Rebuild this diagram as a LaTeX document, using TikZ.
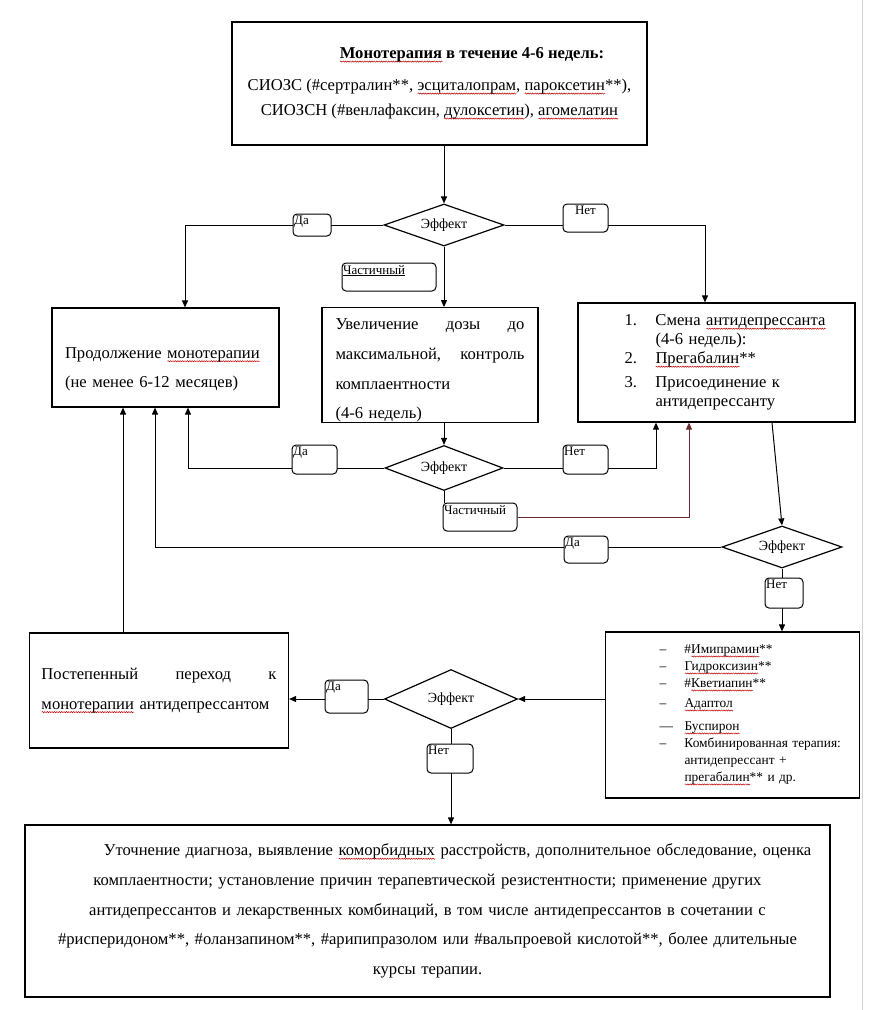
\documentclass[tikz,border=0pt]{standalone}
\usepackage{fontspec}
\setmainfont{Liberation Serif}
\usetikzlibrary{shapes.geometric,arrows.meta,decorations.pathmorphing}
\newlength{\spellwd}
\newcommand{\spell}[1]{\settowidth{\spellwd}{#1}\rlap{\tikz[baseline=0pt]\draw[red!75!black, line width=0.5pt, decorate, decoration={snake, amplitude=0.6pt, segment length=2.4pt}] (0pt,-3pt) -- (\spellwd,-3pt);}#1}
\newcommand{\mainsize}{\fontsize{16.6}{29.7}\selectfont}
\newcommand{\listsize}{\fontsize{13.4}{17}\selectfont}
\newcommand{\tagsize}{\fontsize{13}{15}\selectfont}
\tikzset{
    box/.style={draw, line width=1.2pt, inner xsep=12pt, inner ysep=0pt, font=\mainsize},
    choice/.style={draw, diamond, shape aspect=2.8, line width=1.2pt, inner sep=0pt, font=\fontsize{14}{16}\selectfont},
    tag/.style={draw, rounded corners=4pt, fill=white, line width=1pt, inner sep=0pt},
    tagtext/.style={anchor=north west, inner xsep=1.5pt, inner ysep=2.5pt, font=\tagsize},
    arr/.style={line width=1pt, -{Triangle[length=7pt,width=6pt]}},
    link/.style={line width=1pt}
}
\begin{document}
\begin{tikzpicture}[x=1pt,y=-1pt]
    \fill[white] (0,0) rectangle (883,1010);
    \useasboundingbox (0,0) rectangle (883,1010);
    \draw[gray!35, line width=0.8pt] (862,0) -- (862,1010);

    \node[box, minimum width=415pt, minimum height=123pt, align=center, font=\fontsize{16.6}{25}\selectfont] (mono) at (439.5,83.5)
        {\hspace*{65pt}\textbf{\spell{Монотерапия} в течение 4-6 недель:}\\[7pt]
         СИОЗС (\#сертралин**, \spell{эсциталопрам}, \spell{пароксетин}**),\\
         СИОЗСН (\#венлафаксин, \spell{дулоксетин}), \spell{агомелатин}};
    \node[box, minimum width=227pt, minimum height=99pt, text width=201pt, align=left] (keep) at (165.5,357.5)
        {\mbox{}\\[5pt]
         Продолжение \spell{монотерапии}\\
         (не менее 6-12 месяцев)};
    \node[box, minimum width=216pt, minimum height=114pt, text width=189pt, align=left] (dose) at (430,365)
        {\rule{0pt}{22pt}\makebox[189pt][l]{Увеличение\hfill дозы\hfill до}\\
         \makebox[189pt][l]{максимальной,\hfill контроль}\\
         комплаентности\\
         (4-6 недель)};
    \node[box, minimum width=277pt, minimum height=119pt, text width=240pt, align=left, font=\fontsize{16.6}{19}\selectfont] (swap) at (716.5,362.5)
        {\hspace*{28pt}\makebox[31pt][l]{1.}Смена \spell{антидепрессанта}\\
         \hspace*{59pt}(4-6 недель):\\
         \hspace*{28pt}\makebox[31pt][l]{2.}\spell{Прегабалин}**\\[5pt]
         \hspace*{28pt}\makebox[31pt][l]{3.}Присоединение к\\
         \hspace*{59pt}антидепрессанту};
    \node[box, minimum width=251pt, minimum height=166pt, text width=230pt, align=left, font=\listsize] (alt) at (732.5,715)
        {\hspace*{42pt}\makebox[25pt][l]{–}\#\spell{Имипрамин}**\\
         \hspace*{42pt}\makebox[25pt][l]{–}\spell{Гидроксизин}**\\
         \hspace*{42pt}\makebox[25pt][l]{–}\#\spell{Кветиапин}**\\[3pt]
         \hspace*{42pt}\makebox[25pt][l]{–}\spell{Адаптол}\\[6pt]
         \hspace*{42pt}\makebox[25pt][l]{—}\spell{Буспирон}\\
         \hspace*{42pt}\makebox[25pt][l]{–}Комбинированная терапия:\\
         \hspace*{67pt}антидепрессант +\\
         \hspace*{67pt}\spell{прегабалин}** и др.};
    \node[box, minimum width=258pt, minimum height=115pt, text width=235pt, align=left] (step) at (159,690.5)
        {\makebox[235pt][l]{Постепенный\hfill переход\hfill к}\\
         \makebox[235pt][l]{\spell{монотерапии} антидепрессантом}};
    \node[box, minimum width=805pt, minimum height=172pt, text width=780pt, align=center] (more) at (427.5,911)
        {\hspace*{60pt}Уточнение диагноза, выявление \spell{коморбидных} расстройств, дополнительное обследование, оценка\\
         комплаентности; установление причин терапевтической резистентности; применение других\\
         антидепрессантов и лекарственных комбинаций, в том числе антидепрессантов в сочетании с\\
         \#рисперидоном**, \#оланзапином**, \#арипипразолом или \#вальпроевой кислотой**, более длительные\\
         курсы терапии.};

    \node[choice, minimum width=120pt, minimum height=42pt] (eff1) at (444,225) {Эффект};
    \node[choice, minimum width=118pt, minimum height=45pt] (eff2) at (444,468) {Эффект};
    \node[choice, minimum width=120pt, minimum height=42pt] (eff3) at (782,547) {Эффект};
    \node[choice, minimum width=133pt, minimum height=59pt] (eff4) at (451,699) {Эффект};

    \draw[arr] (eff1.north |- mono.south) -- (eff1.north);
    \draw[arr] (eff1.west) -| ([xshift=19.5pt]keep.north);
    \draw[arr] (eff1.east) -| ([xshift=-11.5pt]swap.north);
    \draw[arr] (eff1.south) -- (eff1.south |- dose.north);
    \draw[arr] (eff2.north |- dose.south) -- (eff2.north);
    \draw[arr] (eff2.west) -| ([xshift=22.5pt]keep.south);
    \draw[arr] (eff2.east) -| ([xshift=-60.5pt]swap.south);
    \draw[arr] ([xshift=55.5pt]swap.south) -- (eff3.north);
    \draw[arr] (eff3.west) -| ([xshift=-10.5pt]keep.south);
    \draw[arr] (eff3.south) -- (eff3.south |- alt.north);
    \draw[arr] (alt.west |- eff4.east) -- (eff4.east);
    \draw[arr] (eff4.west) -- (step.east |- eff4.west);
    \draw[arr] (eff4.south) -- (eff4.south |- more.north);
    \draw[arr] ([xshift=-36pt]step.north) -- ([xshift=-36pt]step.north |- keep.south);

    \node[tag, minimum width=38pt, minimum height=22pt, label={[tagtext]north west:Да}] (yes1) at (312,225) {};
    \node[tag, minimum width=45pt, minimum height=28pt, label={[tagtext, anchor=north]north:Нет}] (no1) at (585.5,218) {};
    \node[tag, minimum width=94pt, minimum height=28pt, label={[tagtext]north west:\underline{Частичный}}] (part1) at (389,277) {};
    \node[tag, minimum width=45pt, minimum height=29pt, label={[tagtext]north west:Да}] (yes2) at (314.5,459.5) {};
    \node[tag, minimum width=45pt, minimum height=29pt, label={[tagtext]north west:Нет}] (no2) at (585.5,459.5) {};
    \node[tag, minimum width=74pt, minimum height=28pt, label={[tagtext]north west:Частичный}] (part2) at (480,517) {};
    \node[tag, minimum width=44pt, minimum height=27pt, label={[tagtext]north west:Да}] (yes3) at (586,549.5) {};
    \node[tag, minimum width=38pt, minimum height=30pt, label={[tagtext]north west:Нет}] (no3) at (784,593) {};
    \node[tag, minimum width=43pt, minimum height=33pt, label={[tagtext]north west:Да}] (yes4) at (346.5,696.5) {};
    \node[tag, minimum width=46pt, minimum height=29pt, label={[tagtext]north west:Нет}] (no4) at (450,758.5) {};

    \draw[link] (eff2.south) -- (eff2.south |- part2.north);
    \draw[arr, draw={rgb,255:red,105;green,45;blue,45}] (part2.east) -| ([xshift=-27.5pt]swap.south);
\end{tikzpicture}
\end{document}
